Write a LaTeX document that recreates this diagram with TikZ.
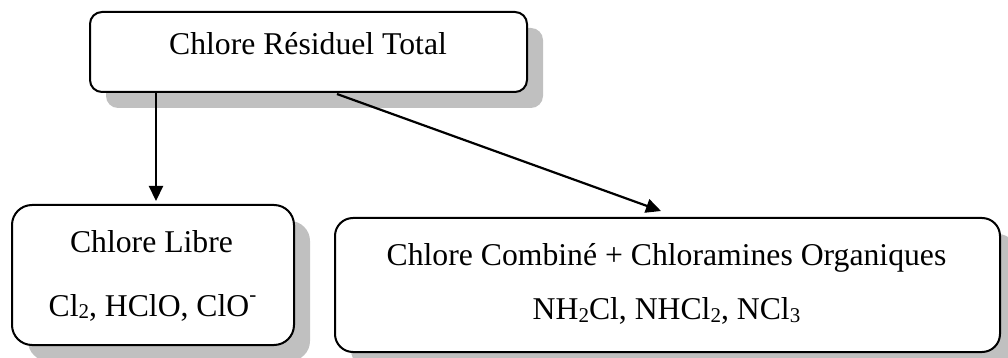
\documentclass[tikz,border=0pt]{standalone}
\usepackage{fontspec}
\setmainfont{Liberation Serif}
\usetikzlibrary{arrows.meta,positioning,shadows,calc}
\definecolor{ombre}{RGB}{192,192,192}
\newcommand{\bas}[1]{\raisebox{-1.2pt}{\fontsize{10.5}{12}\selectfont #1}}
\newcommand{\haut}[1]{\raisebox{7.5pt}{\fontsize{10.5}{12}\selectfont #1}}

\begin{document}
\begin{tikzpicture}[x=0.5pt,y=-0.5pt,
    boite/.style={draw,line width=1pt,rounded corners=#1,fill=white,inner sep=0pt,
      drop shadow={shadow xshift=8pt,shadow yshift=-8pt,fill=ombre,opacity=1}},
    fleche/.style={line width=1.1pt,-{Triangle[length=7.5pt,width=7pt]}},
    texte/.style={font=\fontsize{15.85}{19}\selectfont,anchor=base,inner sep=0pt}]
  \useasboundingbox (0,0) rectangle (1008,358);

  % les trois cadres
  \node[boite=6pt,minimum width=218.5pt,minimum height=40pt] (total) at (308.5,52) {};
  \node[boite=10pt,minimum width=141pt,minimum height=70pt] (libre) at (153,275) {};
  \node[boite=9pt,minimum width=332.5pt,minimum height=67pt] (combine) at (667.5,285) {};

  % les textes
  \node[texte] (t-total) at (308,55) {Chlore Résiduel Total};
  \node[texte] (t-libre) at (151.5,253) {Chlore Libre};
  \node[texte] (t-libre2) at (152.5,316) {Cl\bas{2}, HClO, ClO\haut{-}};
  \node[texte] (t-comb) at (666.5,265) {Chlore Combiné + Chloramines Organiques};
  \node[texte] (t-comb2) at (666.5,320) {NH\bas{2}Cl, NHCl\bas{2}, NCl\bas{3}};

  % les fleches
  \coordinate (d1) at ($(total.south west)+(67,0)$);
  \coordinate (d2) at ($(total.south west)+(248,1)$);
  \coordinate (f2) at ($(combine.north west)+(327,-6)$);
  \draw[fleche,shorten >=1.5pt] (d1) -- (d1 |- libre.north);
  \draw[fleche] (d2) -- (f2);
\end{tikzpicture}
\end{document}
